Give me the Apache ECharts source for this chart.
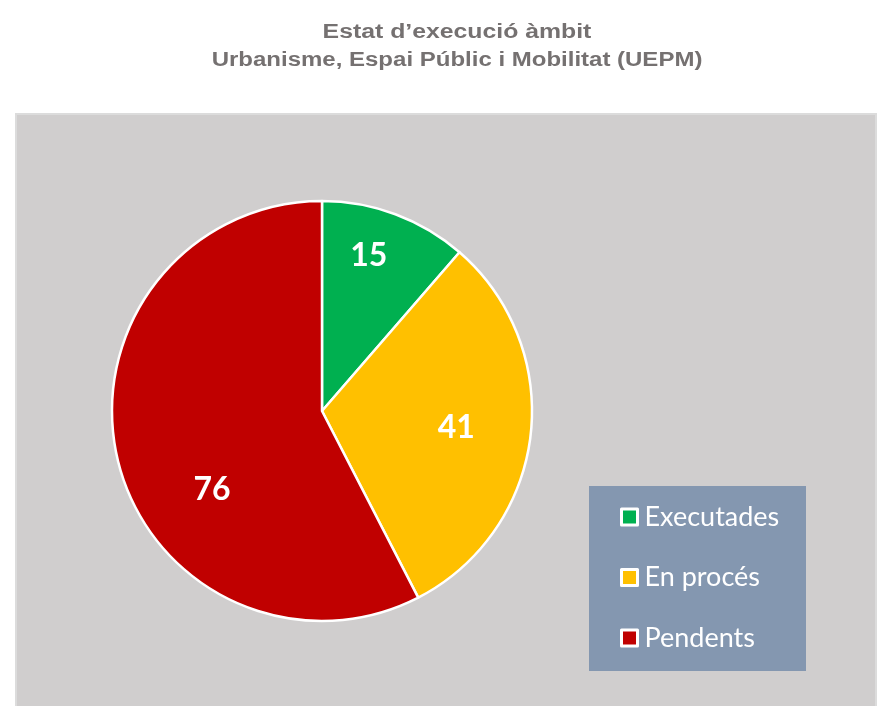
<!DOCTYPE html>
<html>
<head>
<meta charset="utf-8">
<script src="https://cdn.jsdelivr.net/npm/echarts@6/dist/echarts.min.js"></script>
<style>
  html, body { margin: 0; padding: 0; background: #fff; }
  #estat { width: 881px; height: 706px; }
</style>
</head>
<body>
<div id="estat"></div>
<script>
  // dades del gràfic
  var categories = ['Executades', 'En procés', 'Pendents'];
  var values = [15, 41, 76];
  var colors = ['#00b050', '#ffc000', '#c00000'];
  var titleLines = ['Estat d\u2019execució àmbit', 'Urbanisme, Espai Públic i Mobilitat (UEPM)'];

  var myChart = echarts.init(document.getElementById('estat'));

  // desplaçament de les etiquetes (com a l'original d'Excel)
  var labelShift = [[9, -54], [27, 4], [-5, 53]];

  option = {
      animation: false,
      graphic: [
        {
          type: 'rect',
          z: -10,
          shape: { x: 16, y: 114, width: 860, height: 600 },
          style: { fill: '#d0cece', stroke: '#dcdcdc', lineWidth: 2 }
        },
        {
          type: 'rect',
          z: -5,
          shape: { x: 589, y: 486, width: 217, height: 185 },
          style: { fill: '#8497b0' }
        },
        // títol en dues línies, una mica eixamplat com a l'original
        {
          type: 'text',
          x: 457, y: 32,
          scaleX: 1.24,
          style: {
            text: titleLines[0],
            fill: '#757171',
            font: 'bold 20px "Liberation Sans"',
            textAlign: 'center',
            textVerticalAlign: 'middle'
          }
        },
        {
          type: 'text',
          x: 457, y: 60,
          scaleX: 1.2,
          style: {
            text: titleLines[1],
            fill: '#757171',
            font: 'bold 20px "Liberation Sans"',
            textAlign: 'center',
            textVerticalAlign: 'middle'
          }
        }
      ],
      legend: {
          orient: 'vertical',
          left: 620,
          top: 502,
          padding: 0,
          data: categories,
          icon: 'rect',
          itemWidth: 16,
          itemHeight: 16,
          itemGap: 30.5,
          itemStyle: {
              borderColor: '#fff',
              borderWidth: 3
          },
          textStyle: {
              color: '#fff',
              fontSize: 27,
              fontFamily: 'Lato',
              lineHeight: 30,
              padding: [0, 0, 0, 2]
          }
      },
      series: [
          {
              type: 'pie',
              center: [322, 411],
              radius: 210,
              startAngle: 90,
              clockwise: true,
              data: categories.map(function (c, i) {
                  return { name: c, value: values[i], itemStyle: { color: colors[i] } };
              }),
              itemStyle: {
                  borderColor: '#fff',
                  borderWidth: 2.5
              },
              label: {
                  show: true,
                  position: 'inside',
                  formatter: '{c}',
                  color: '#fff',
                  fontSize: 32,
                  fontWeight: 'bold',
                  fontFamily: 'Lato'
              },
              labelLine: { show: false },
              labelLayout: function (params) {
                  var s = labelShift[params.dataIndex];
                  return { dx: s[0], dy: s[1] };
              },
              emphasis: { disabled: true }
          }
      ]
  };
  myChart.setOption(option);
</script>
</body>
</html>
